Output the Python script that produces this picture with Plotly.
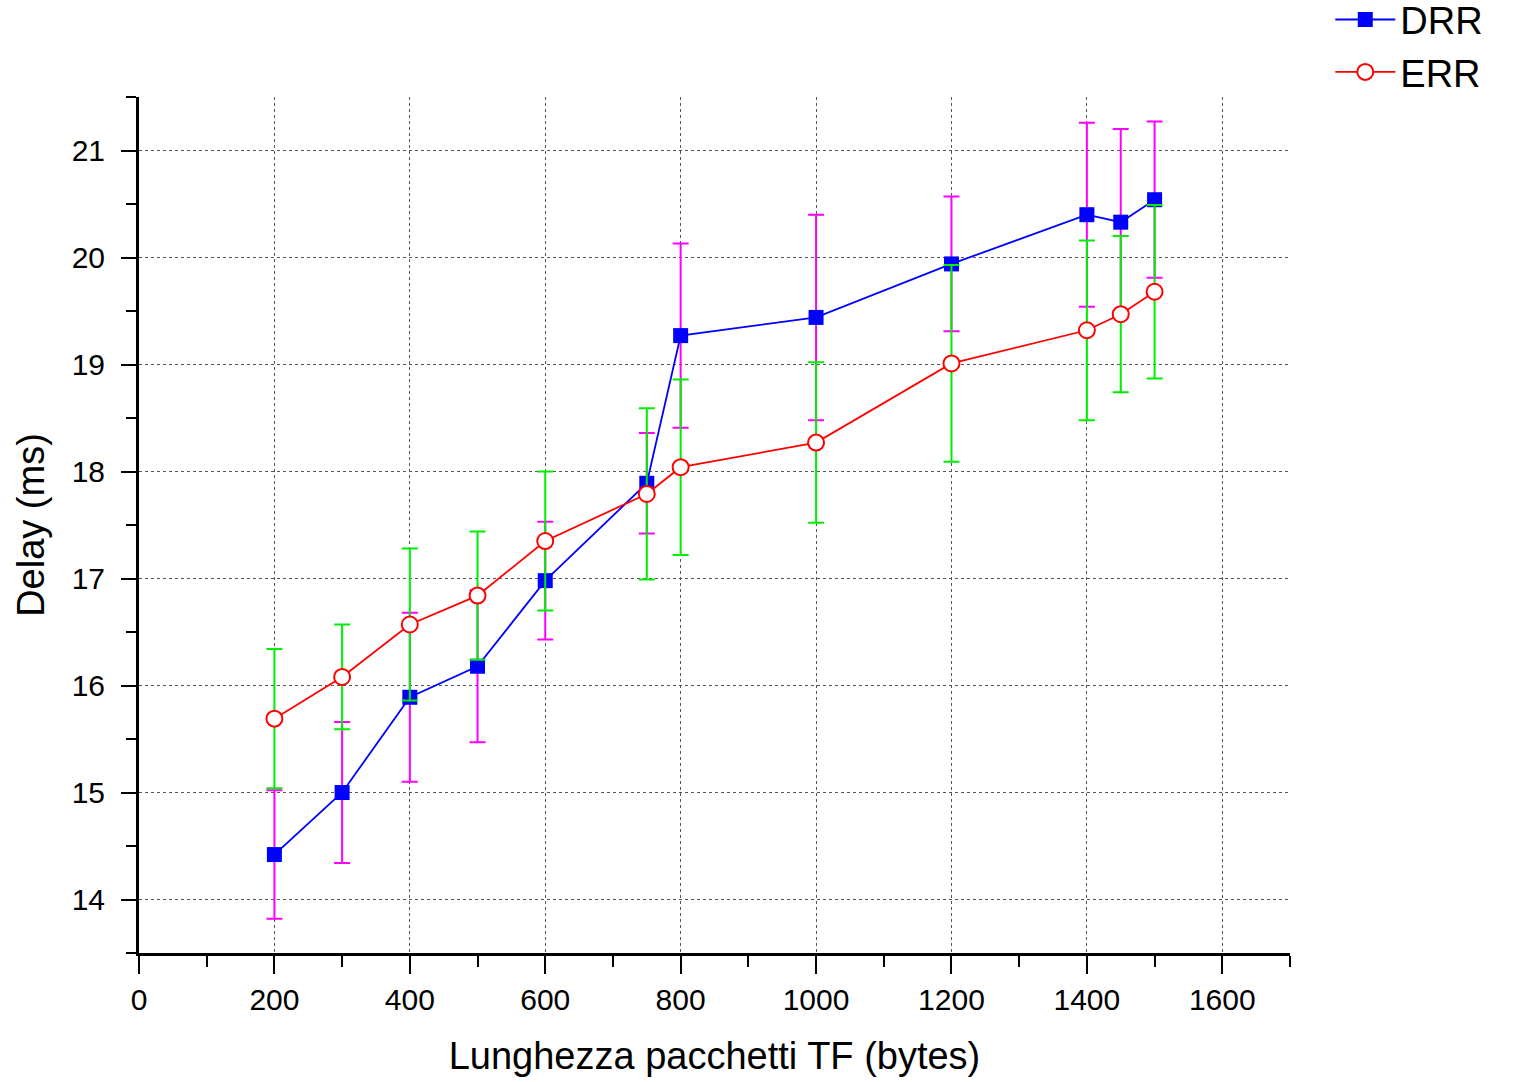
import plotly.graph_objects as go

# Data
x_vals = [200, 300, 400, 500, 600, 750, 800, 1000, 1200, 1400, 1450, 1500]

drr_delay = [14.42, 15.00, 15.89, 16.18, 16.98, 17.89, 19.27, 19.44, 19.94, 20.40, 20.33, 20.54]
drr_err = [0.60, 0.66, 0.79, 0.71, 0.55, 0.47, 0.86, 0.96, 0.63, 0.86, 0.87, 0.73]

err_delay = [15.69, 16.08, 16.57, 16.84, 17.35, 17.79, 18.04, 18.27, 19.01, 19.32, 19.47, 19.68]
err_err = [0.65, 0.49, 0.71, 0.60, 0.65, 0.80, 0.82, 0.75, 0.92, 0.84, 0.73, 0.81]

x_ticks = [0, 200, 400, 600, 800, 1000, 1200, 1400, 1600]
y_ticks = [14, 15, 16, 17, 18, 19, 20, 21]

FONT = "Liberation Sans, Arial, sans-serif"

fig = go.Figure()

fig.add_trace(go.Scatter(
    x=x_vals, y=drr_delay, name="DRR", mode="lines+markers",
    line=dict(color="#0000FF", width=1.8),
    marker=dict(symbol="square", size=15, color="#0000FF",
                line=dict(color="#0000FF", width=0)),
    error_y=dict(type="data", array=drr_err, visible=True,
                 color="#FF00FF", thickness=2, width=8),
))

fig.add_trace(go.Scatter(
    x=x_vals, y=err_delay, name="ERR", mode="lines+markers",
    line=dict(color="#FF0000", width=1.8),
    marker=dict(symbol="circle", size=16, color="white",
                line=dict(color="#FF0000", width=2)),
    error_y=dict(type="data", array=err_err, visible=True,
                 color="#00EE00", thickness=2, width=8),
))

axis_common = dict(
    showline=True, linecolor="black", linewidth=3,
    ticks="outside", tickcolor="black", tickwidth=2,
    showgrid=True, gridcolor="#555555", gridwidth=1, griddash="dot",
    zeroline=False, mirror=False,
    tickfont=dict(family=FONT, size=30, color="black"),
)

fig.update_xaxes(
    range=[0, 1700], tickvals=x_ticks, ticktext=[str(v) for v in x_ticks],
    ticklen=18,
    minor=dict(dtick=100, tick0=0, ticks="outside", ticklen=11,
               tickwidth=2, tickcolor="black", showgrid=False),
    title=dict(text="Lunghezza pacchetti TF (bytes)",
               font=dict(family=FONT, size=38, color="black"), standoff=28),
    **axis_common,
)

fig.update_yaxes(
    range=[13.5, 21.5], tickvals=y_ticks, ticktext=[str(v) for v in y_ticks],
    ticklen=15, ticklabelstandoff=10,
    minor=dict(dtick=0.5, tick0=13.5, ticks="outside", ticklen=10,
               tickwidth=2, tickcolor="black", showgrid=False),
    title=dict(text="Delay (ms)",
               font=dict(family=FONT, size=38, color="black"), standoff=16),
    **axis_common,
)

fig.update_layout(
    width=1522, height=1082,
    margin=dict(l=139, r=232, t=97, b=129, autoexpand=False),
    paper_bgcolor="white", plot_bgcolor="white",
    showlegend=True,
    legend=dict(x=1.035, y=1.127, xanchor="left", yanchor="top",
                font=dict(family=FONT, size=38, color="black"),
                bgcolor="rgba(0,0,0,0)", itemwidth=60, tracegroupgap=0),
)

fig.write_html("out.html")
